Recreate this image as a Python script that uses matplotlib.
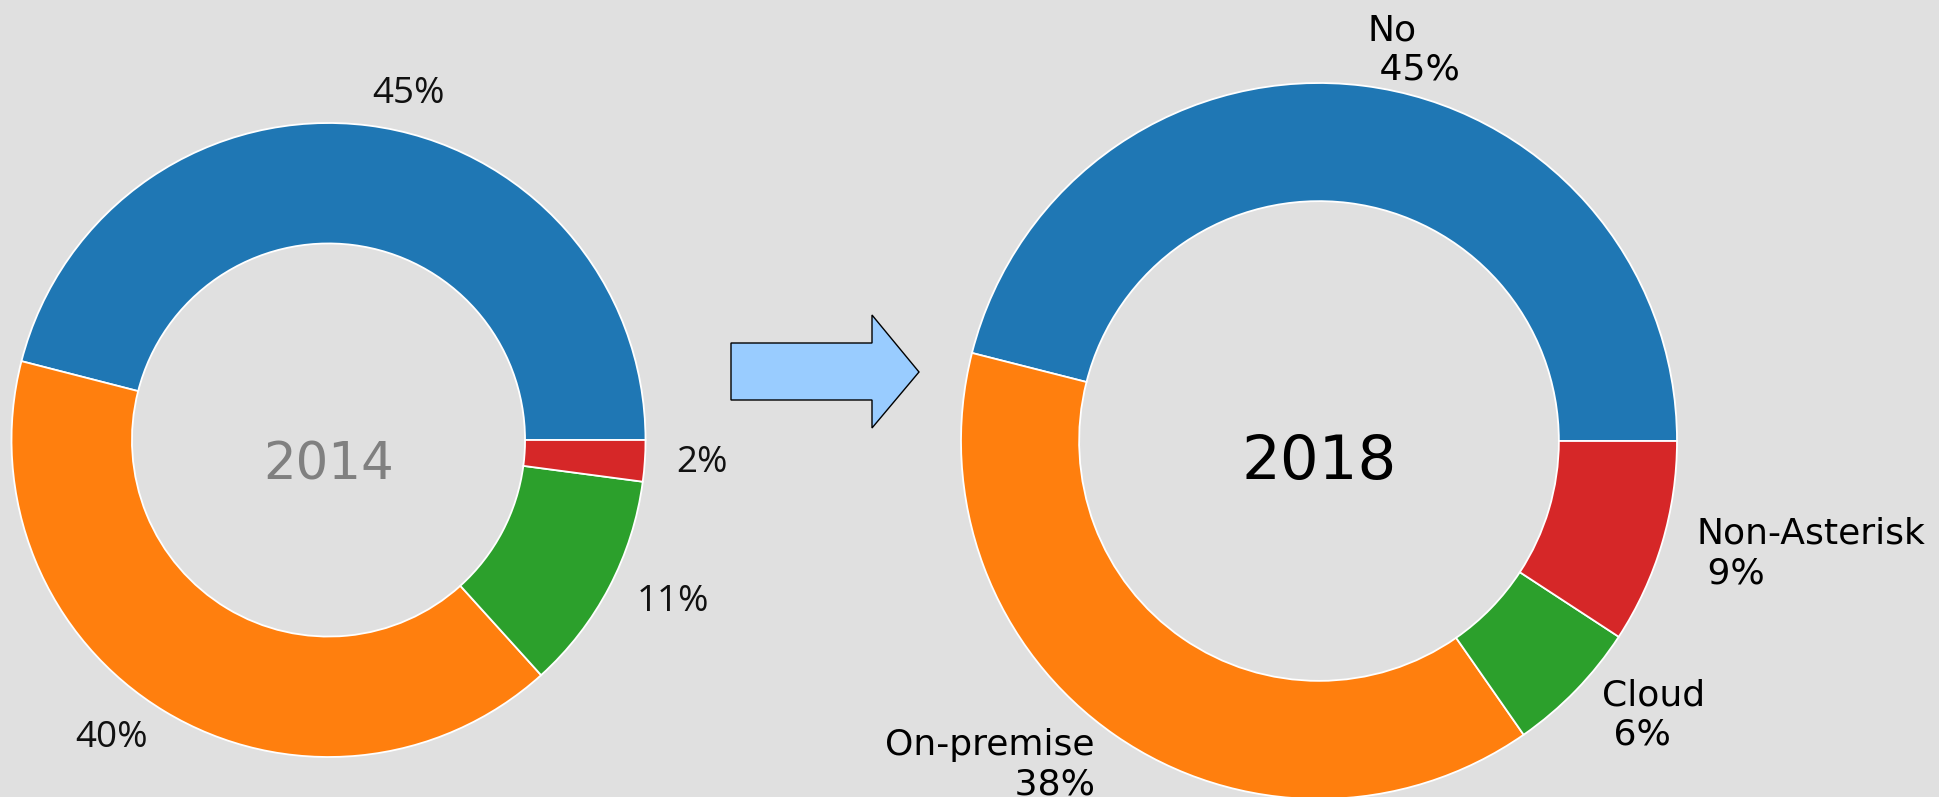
"""Two donut charts (2014 -> 2018) with an arrow between them."""

import matplotlib
matplotlib.use("Agg")
import matplotlib.pyplot as plt
from matplotlib.patches import Polygon

W, H = 1940, 797
BG = "#e0e0e0"
COLORS = ["#1f77b4", "#ff7f0e", "#2ca02c", "#d62728"]

# 2014 shares and the printed labels
shares_2014 = [46.0, 40.7, 11.2, 2.1]
labels_2014 = ["45%", "40%", "11%", "2%"]

# 2018 shares and labels
categories_2018 = ["No", "On-premise", "Cloud", "Non-Asterisk"]
shares_2018 = [46.0, 38.6, 6.1, 9.2]
pct_2018 = [45, 38, 6, 9]


def donut_axes(fig, cx, cy, r):
    """Axes whose unit circle maps onto a circle of radius r px at (cx, cy)."""
    ax = fig.add_axes([(cx - r) / W, (cy - r) / H, 2 * r / W, 2 * r / H])
    ax.set_xlim(-1, 1)
    ax.set_ylim(-1, 1)
    ax.set_aspect("equal")
    ax.axis("off")
    return ax


fig = plt.figure(figsize=(W / 100, H / 100), dpi=100, facecolor=BG)

# --- 2014 -----------------------------------------------------------------
ax1 = donut_axes(fig, 328.5, 357, 317)
ax1.pie(shares_2014, labels=labels_2014, colors=COLORS, startangle=0,
        counterclock=True, radius=1, labeldistance=1.1,
        wedgeprops=dict(width=0.38, edgecolor="white", linewidth=1.3),
        textprops=dict(fontsize=26.5, family=["Open Sans", "DejaVu Sans"],
                       color="#111111"))
ax1.set_xlim(-1, 1)
ax1.set_ylim(-1, 1)
ax1.text(0, -0.08, "2014", ha="center", va="center", fontsize=37,
         color="#808080")

# --- 2018 -----------------------------------------------------------------
ax2 = donut_axes(fig, 1319, 356, 358)
labels_2018 = [f"{c}\n {p}%" for c, p in zip(categories_2018, pct_2018)]
ax2.pie(shares_2018, labels=labels_2018, colors=COLORS, startangle=0,
        counterclock=True, radius=1, labeldistance=1.1,
        wedgeprops=dict(width=0.33, edgecolor="white", linewidth=1.3),
        textprops=dict(fontsize=26, color="black"))
ax2.set_xlim(-1, 1)
ax2.set_ylim(-1, 1)
ax2.text(0, -0.06, "2018", ha="center", va="center", fontsize=44,
         color="black")

# --- arrow ----------------------------------------------------------------
arrow_px = [(731, 343), (872, 343), (872, 315), (919, 372),
            (872, 428), (872, 400), (731, 400)]
arrow = Polygon([(x / W, 1 - y / H) for x, y in arrow_px], closed=True,
                transform=fig.transFigure, facecolor="#99ccff",
                edgecolor="black", linewidth=1.0)
fig.patches.append(arrow)

fig.savefig("out.png", dpi=100, facecolor=BG)
